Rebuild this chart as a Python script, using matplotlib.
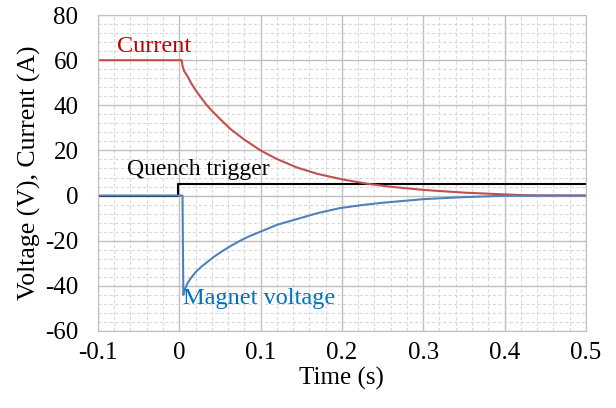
import matplotlib.pyplot as plt
from matplotlib.ticker import MultipleLocator

plt.rcParams['font.family'] = ['Liberation Serif', 'DejaVu Serif']
plt.rcParams['axes.unicode_minus'] = False

# values
currentTime = [-0.1, 0.0, 0.003, 0.004, 0.006, 0.01, 0.015, 0.02, 0.027, 0.034, 0.042,
               0.05, 0.063, 0.08, 0.1, 0.12, 0.145, 0.17, 0.2, 0.23, 0.26,
               0.3, 0.35, 0.4, 0.43, 0.5]
currentValues = [60, 60, 60, 57.5, 55.2, 53, 49.6, 46.8, 43.3, 40, 36.9,
                 34, 29.5, 24.8, 20, 16.2, 12.4, 9.6, 7.2, 5.3, 3.9,
                 2.5, 1.3, 0.5, 0.1, 0.0]

voltageTime = [-0.1, 0.0, 0.004, 0.005, 0.007, 0.01, 0.0135, 0.02, 0.027, 0.034, 0.044,
               0.054, 0.065, 0.075, 0.087, 0.1, 0.12, 0.145, 0.17, 0.197, 0.225,
               0.25, 0.3, 0.35, 0.4, 0.5]
voltageValues = [0, 0, 0, -44, -41.5, -39, -37, -34, -31.6, -29.6, -26.8,
                 -24.4, -22, -20, -17.9, -16, -13, -10.4, -7.8, -5.6, -4.2,
                 -3.2, -1.6, -0.7, -0.1, 0]

triggerTime = [-0.1, -0.001, -0.001, 0.5]
triggerValues = [0, 0, 5, 5]

fig = plt.figure(figsize=(6.16, 4.08), dpi=100)
ax = fig.add_axes([0.159, 0.189, 0.792, 0.774])

ax.plot(triggerTime, triggerValues, color='black', lw=1.5)
ax.plot(currentTime, currentValues, color='#C0504D', lw=1.5)
ax.plot(voltageTime, voltageValues, color='#4F81BD', lw=1.5)

ax.set_xlim(-0.1, 0.5)
ax.set_ylim(-60, 80)
ax.xaxis.set_major_locator(MultipleLocator(0.1))
ax.xaxis.set_minor_locator(MultipleLocator(0.02))
ax.yaxis.set_major_locator(MultipleLocator(20))
ax.yaxis.set_minor_locator(MultipleLocator(4))
ax.set_xticks([-0.1, 0, 0.1, 0.2, 0.3, 0.4, 0.5])
ax.set_xticklabels(['-0.1', '0', '0.1', '0.2', '0.3', '0.4', '0.5'])

ax.grid(which='major', color='#BFBFBF', lw=1)
ax.grid(which='minor', color='#D9D9D9', lw=0.8, ls=(0, (3, 2)))
ax.set_axisbelow(True)
ax.tick_params(which='both', length=0, labelsize=18)
ax.tick_params(axis='y', pad=14)
ax.tick_params(axis='x', pad=8)
for s in ax.spines.values():
    s.set_color('#BFBFBF')

ax.set_xlabel('Time (s)', fontsize=18, labelpad=2)
ax.set_ylabel('Voltage (V), Current (A)', fontsize=18.5, labelpad=3)

ax.text(-0.077, 63.5, 'Current', color='#C00000', fontsize=17.5)
ax.text(-0.064, 9.3, 'Quench trigger', color='black', fontsize=17)
ax.text(0.005, -48, 'Magnet voltage', color='#0070C0', fontsize=17.5)

fig.savefig('out.png', dpi=100)
